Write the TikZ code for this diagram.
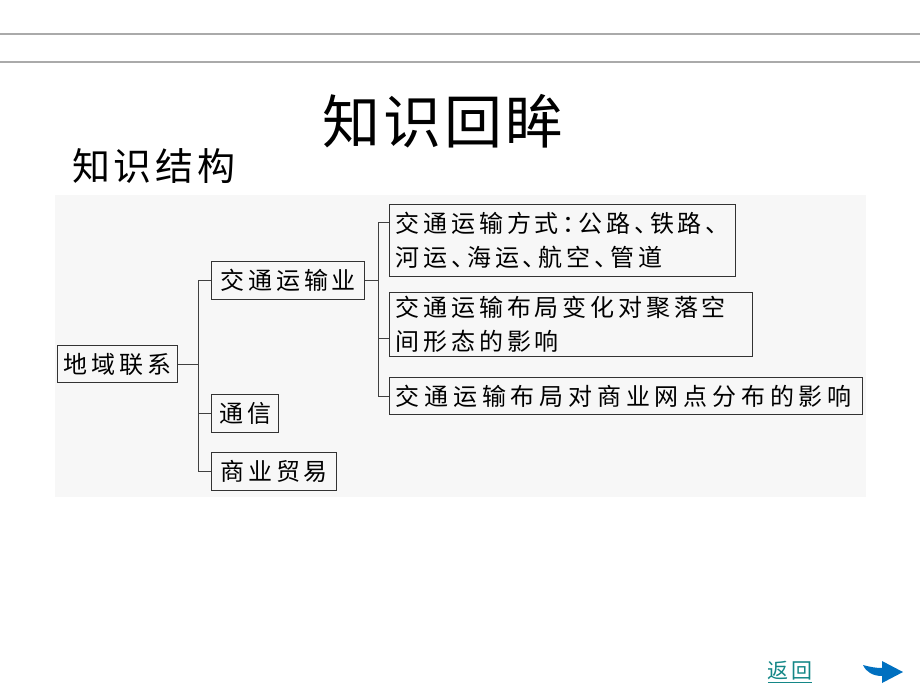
\documentclass[tikz,border=0pt]{standalone}
\usepackage{fontspec}
\newfontfamily\cjk[LetterSpace=16,RawFeature=+halt]{Noto Sans CJK SC}
\newfontfamily\widecjk[LetterSpace=20]{Noto Sans CJK SC}
\newfontfamily\headfont[LetterSpace=5]{Noto Sans CJK SC}
\newfontfamily\subfont[LetterSpace=10]{Noto Sans CJK SC}
\usetikzlibrary{shapes,arrows}
\definecolor{rulegray}{RGB}{170,170,170}
\definecolor{linkteal}{RGB}{20,135,135}
\definecolor{navblue}{RGB}{0,112,192}
\definecolor{scangray}{RGB}{247,247,247}
\tikzstyle{block} = [inner xsep=6pt, inner ysep=0pt, rectangle, draw=black!80, line width=1.4pt, font=\cjk\fontsize{24}{34}\selectfont, anchor=north west, minimum height=38pt]
\tikzstyle{tallblock} = [block, align=left]
\tikzstyle{wideblock} = [block, align=left, font=\widecjk\fontsize{24}{34}\selectfont]
\tikzstyle{line} = [draw, black!75, line width=1.1pt]
\tikzstyle{rule} = [draw=rulegray, line width=1.5pt]

\begin{document}
\begin{tikzpicture}[x=1pt,y=-1pt]
%[node distance = 1cm, auto]
\useasboundingbox (0,0) rectangle (920,690);

\path[rule] (0,34) -- (920,34);
\path[rule] (0,62) -- (920,62);
\fill[scangray] (55,195) rectangle (866,497);

\node [font=\headfont\fontsize{58}{60}\selectfont] (title) at (443,121) {知识回眸};
\node [font=\subfont\fontsize{38}{40}\selectfont, anchor=west, inner sep=0] (subtitle) at (72,166) {知识结构};

\node [block, minimum width=120pt, minimum height=37pt] (root) at (57,345) {地域联系};
\node [block, minimum width=153pt] (trans) at (211,261) {交通运输业};
\node [block, minimum width=67pt] (comm) at (211,394) {通信};
\node [block, minimum width=125pt] (trade) at (211,452) {商业贸易};

\node [tallblock, text width=334pt, minimum height=72pt] (modeA) at (389,204) {交通运输方式：公路、铁路、\\河运、海运、航空、管道};
\node [tallblock, text width=351pt, minimum height=64pt] (layoutB) at (389,292) {交通运输布局变化对聚落空\\间形态的影响};
\node [wideblock, text width=461pt, minimum height=37pt] (shopC) at (389,377) {交通运输布局对商业网点分布的影响};

\path [line] (root.east) -- ++(20,0) coordinate (j1);
\path [line] (trans.west) -| (j1) |- (trade.west);
\path [line] (j1) |- (comm.west);

\path [line] (trans.east) -- ++(13,0) coordinate (j2);
\path [line] ([yshift=18pt]modeA.west) -| (j2) |- (shopC.west);
\path [line] (j2) |- ([yshift=-14pt]layoutB.west);

\node [font=\subfont\fontsize{21}{24}\selectfont, text=linkteal, inner sep=0] (back) at (790,672) {\underline{返回}};
\fill[navblue] (863,665) .. controls (870,667) and (876,668) .. (882,668) -- (882,661) -- (903,672) -- (882,683) -- (882,676) .. controls (873,676) and (866,672) .. (863,665) -- cycle;

\end{tikzpicture}
\end{document}
